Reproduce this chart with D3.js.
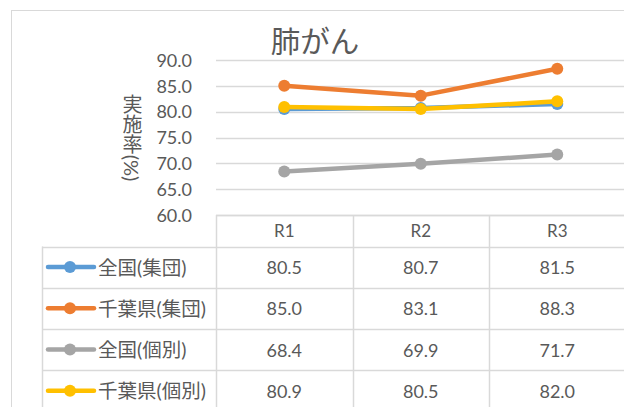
<!DOCTYPE html>
<html><head><meta charset="utf-8">
<script src="https://cdn.jsdelivr.net/npm/d3@7"></script>
<style>body{margin:0;background:#fff}svg{display:block}</style>
</head><body>
<script>
const categories = ["R1", "R2", "R3"];
const seriesNames = ["全国(集団)", "千葉県(集団)", "全国(個別)", "千葉県(個別)"];
const zenkokuShudan = [80.5, 80.7, 81.5];
const chibaShudan = [85.0, 83.1, 88.3];
const zenkokuKobetsu = [68.4, 69.9, 71.7];
const chibaKobetsu = [80.9, 80.5, 82.0];
const yTicks = [60, 65, 70, 75, 80, 85, 90];
const colors = ["#5B9BD5", "#ED7D31", "#A5A5A5", "#FFC000"];
const title = "肺がん";
const yLabel = "実施率(%)";

const series = [zenkokuShudan, chibaShudan, zenkokuKobetsu, chibaKobetsu];
const W = 624, H = 407;
const font = "Lato, 'Noto Sans CJK JP', sans-serif";
const textColor = "#595959";
const gridColor = "#D9D9D9";

const svg = d3.select("body").append("svg").attr("width", W).attr("height", H);

// outer chart border
svg.append("rect").attr("x", 11.5).attr("y", 10.5).attr("width", 700).attr("height", 500)
  .attr("fill", "none").attr("stroke", gridColor).attr("stroke-width", 1);

const plotLeft = 216, colW = 136.5;
const x = d3.scaleBand().domain(categories).range([plotLeft, plotLeft + colW * categories.length]);
const y = d3.scaleLinear().domain([60, 90]).range([215, 60]);

// gridlines
svg.append("g").selectAll("line").data(yTicks).join("line")
  .attr("x1", plotLeft).attr("x2", W + 5)
  .attr("y1", d => Math.round(y(d)) + 0.5).attr("y2", d => Math.round(y(d)) + 0.5)
  .attr("stroke", gridColor).attr("stroke-width", 1.3);

// y tick labels
const yAxis = d3.axisLeft(y).tickValues(yTicks).tickFormat(d3.format(".1f")).tickSize(0).tickPadding(0);
const ga = svg.append("g").attr("transform", "translate(192,0)").call(yAxis);
ga.select(".domain").remove();
ga.selectAll("text").attr("font-family", font).attr("font-size", 18).attr("fill", textColor)
  .attr("dy", "0.35em");

// title
svg.append("text").attr("x", 315).attr("y", 52).attr("text-anchor", "middle")
  .attr("font-family", font).attr("font-size", 29.5).attr("fill", textColor).text(title);

// y label (vertical writing)
svg.append("text").attr("x", 132).attr("y", 138).attr("text-anchor", "middle")
  .style("writing-mode", "vertical-rl").style("text-orientation", "mixed")
  .attr("font-family", font).attr("font-size", 20).attr("fill", textColor).text(yLabel);

// lines
const line = d3.line().x((d, i) => x(categories[i]) + x.bandwidth() / 2).y(d => y(d));
series.forEach((s, k) => {
  const g = svg.append("g");
  g.append("path").attr("d", line(s)).attr("fill", "none").attr("stroke", colors[k])
    .attr("stroke-width", 4.5).attr("stroke-linejoin", "round").attr("stroke-linecap", "round");
  g.selectAll("circle").data(s).join("circle")
    .attr("cx", (d, i) => x(categories[i]) + x.bandwidth() / 2).attr("cy", d => y(d))
    .attr("r", 6).attr("fill", colors[k]);
});

// data table
const tableTop = 215, headerH = 31.5, rowH = 41.2, legendLeft = 42;
const tg = svg.append("g");
tg.append("line").attr("x1", plotLeft).attr("x2", W + 5).attr("y1", tableTop + 0.5).attr("y2", tableTop + 0.5)
  .attr("stroke", gridColor).attr("stroke-width", 1.5);
for (let r = 0; r < seriesNames.length; r++) {
  const yy = Math.round(tableTop + headerH + r * rowH) + 0.5;
  tg.append("line").attr("x1", legendLeft).attr("x2", W + 5).attr("y1", yy).attr("y2", yy)
    .attr("stroke", gridColor).attr("stroke-width", 1.5);
}
tg.append("line").attr("x1", legendLeft + 0.5).attr("x2", legendLeft + 0.5)
  .attr("y1", tableTop + headerH).attr("y2", H + 5).attr("stroke", gridColor).attr("stroke-width", 1.5);
for (let c = 0; c <= categories.length; c++) {
  const xx = Math.round(plotLeft + c * colW) + 0.5;
  tg.append("line").attr("x1", xx).attr("x2", xx).attr("y1", tableTop).attr("y2", H + 5)
    .attr("stroke", gridColor).attr("stroke-width", 1.5);
}
tg.selectAll("text.hdr").data(categories).join("text").attr("class", "hdr")
  .attr("x", d => x(d) + x.bandwidth() / 2).attr("y", tableTop + headerH / 2)
  .attr("text-anchor", "middle").attr("dominant-baseline", "central")
  .attr("font-family", font).attr("font-size", 17).attr("fill", textColor).text(d => d);
series.forEach((s, r) => {
  const cy = tableTop + headerH + r * rowH + rowH / 2;
  tg.append("line").attr("x1", 48).attr("x2", 94).attr("y1", cy).attr("y2", cy)
    .attr("stroke", colors[r]).attr("stroke-width", 4.5).attr("stroke-linecap", "round");
  tg.append("circle").attr("cx", 70).attr("cy", cy).attr("r", 6).attr("fill", colors[r]);
  tg.append("text").attr("x", 98).attr("y", cy).attr("dominant-baseline", "central")
    .attr("font-family", font).attr("font-size", 19.5).attr("fill", textColor).text(seriesNames[r]);
  s.forEach((v, i) => {
    tg.append("text").attr("x", x(categories[i]) + x.bandwidth() / 2).attr("y", cy)
      .attr("text-anchor", "middle").attr("dominant-baseline", "central")
      .attr("font-family", font).attr("font-size", 18).attr("fill", textColor).text(d3.format(".1f")(v));
  });
});
</script>
</body></html>
